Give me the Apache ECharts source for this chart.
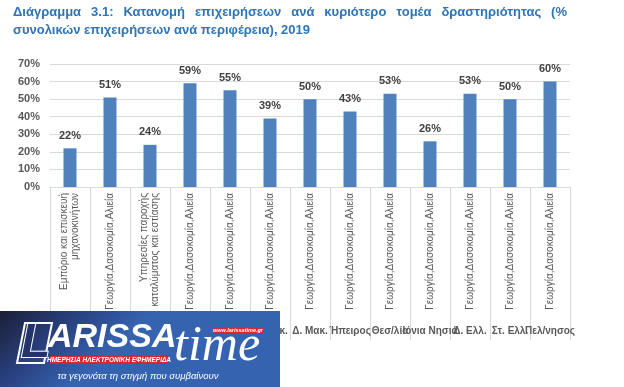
<!DOCTYPE html>
<html>
<head>
<meta charset="utf-8">
<script src="https://cdn.jsdelivr.net/npm/echarts@6/dist/echarts.min.js"></script>
<style>
html,body{margin:0;padding:0;background:#fff;}
#chart{width:624px;height:387px;}
</style>
</head>
<body>
<div id="chart"></div>
<script>
// ---- data ----
var sectors = [
  'Εμπόριο και επισκευή\nμηχανοκινήτων',
  'Γεωργία,Δασοκομία,Αλιεία',
  'Υπηρεσίες παροχής\nκαταλύματος και εστίασης',
  'Γεωργία,Δασοκομία,Αλιεία',
  'Γεωργία,Δασοκομία,Αλιεία',
  'Γεωργία,Δασοκομία,Αλιεία',
  'Γεωργία,Δασοκομία,Αλιεία',
  'Γεωργία,Δασοκομία,Αλιεία',
  'Γεωργία,Δασοκομία,Αλιεία',
  'Γεωργία,Δασοκομία,Αλιεία',
  'Γεωργία,Δασοκομία,Αλιεία',
  'Γεωργία,Δασοκομία,Αλιεία',
  'Γεωργία,Δασοκομία,Αλιεία'
];
var regions = ['Αττική', 'Β. Αιγαίο', 'Ν. Αιγαίο', 'Κρήτη', 'Α. Μακ. Θρ.', 'Κ. Μακ.', 'Δ. Μακ.', 'Ήπειρος', 'Θεσ/λία', 'Ιόνια Νησιά', 'Δ. Ελλ.', 'Στ. Ελλ.', 'Πελ/νησος'];
var shares = [22, 51, 24, 59, 55, 39, 50, 43, 53, 26, 53, 50, 60];
var yTicks = [0, 10, 20, 30, 40, 50, 60, 70];

var titleLine1 = ['Διάγραμμα', '3.1:', 'Κατανομή', 'επιχειρήσεων', 'ανά', 'κυριότερο', 'τομέα', 'δραστηριότητας', '(%'];
var titleLine2 = 'συνολικών επιχειρήσεων ανά περιφέρεια), 2019';

var titleFont = 'bold 13px "Liberation Sans", Arial, sans-serif';
var titleColor = '#2e75b6';
var titleLeft = 13, titleRight = 567;

// justified first title line
var ctx = document.createElement('canvas').getContext('2d');
ctx.font = titleFont;
var widths = titleLine1.map(function (w) { return ctx.measureText(w).width; });
var total = widths.reduce(function (a, b) { return a + b; }, 0);
var gap = (titleRight - titleLeft - total) / (titleLine1.length - 1);

var graphics = [];
var cx = titleLeft;
titleLine1.forEach(function (w, i) {
  graphics.push({type: 'text', x: cx, y: 12, z: 10,
    style: {text: w, font: titleFont, fill: titleColor, textVerticalAlign: 'middle'}});
  cx += widths[i] + gap;
});
graphics.push({type: 'text', x: titleLeft, y: 30, z: 10,
  style: {text: titleLine2, font: titleFont, fill: titleColor, textVerticalAlign: 'middle'}});

// logo overlay
graphics.push({type: 'rect', shape: {x: 0, y: 311, width: 280, height: 76}, z: 50,
  style: {fill: {type: 'linear', x: 0, y: 0, x2: 0.25, y2: 1, colorStops: [
    {offset: 0, color: '#1c1e36'}, {offset: 0.5, color: '#283f7c'}, {offset: 1, color: '#3563b0'}]}}});
graphics.push({type: 'polygon', z: 51, shape: {points: [[25, 323], [52, 323], [44, 363], [17, 363]]},
  style: {fill: 'none', stroke: '#ffffff', lineWidth: 2}});
graphics.push({type: 'text', x: 21, y: 344, z: 52,
  style: {text: 'L', font: 'italic bold 48px "Liberation Sans", Arial, sans-serif', fill: '#24336a', stroke: '#ffffff', lineWidth: 2, textVerticalAlign: 'middle'}});
graphics.push({type: 'text', x: 48, y: 338, z: 52,
  style: {text: 'ARISSA', font: 'italic bold 34px "Liberation Sans", Arial, sans-serif', fill: '#ffffff', textVerticalAlign: 'middle'}});
graphics.push({type: 'text', x: 174, y: 347, z: 53,
  style: {text: 'time', font: 'italic 50px "Liberation Serif", "Times New Roman", serif', fill: '#ffffff', textVerticalAlign: 'middle'}});
graphics.push({type: 'rect', z: 52, shape: {x: 50, y: 356, width: 118, height: 8}, style: {fill: '#d7262c'}});
graphics.push({type: 'text', x: 109, y: 360, z: 53,
  style: {text: 'ΗΜΕΡΗΣΙΑ ΗΛΕΚΤΡΟΝΙΚΗ ΕΦΗΜΕΡΙΔΑ', font: 'italic bold 6.5px "Liberation Sans", Arial, sans-serif', fill: '#ffffff', textAlign: 'center', textVerticalAlign: 'middle'}});
graphics.push({type: 'rect', z: 52, shape: {x: 213, y: 327, width: 50, height: 7}, style: {fill: '#d7262c'}});
graphics.push({type: 'text', x: 238, y: 330.5, z: 53,
  style: {text: 'www.larissatime.gr', font: 'italic bold 5.5px "Liberation Sans", Arial, sans-serif', fill: '#ffffff', textAlign: 'center', textVerticalAlign: 'middle'}});
graphics.push({type: 'text', x: 138, y: 376, z: 52,
  style: {text: 'τα γεγονότα τη στιγμή που συμβαίνουν', font: 'italic 9.5px "Liberation Sans", Arial, sans-serif', fill: '#ffffff', textAlign: 'center', textVerticalAlign: 'middle'}});

var chart = echarts.init(document.getElementById('chart'), null, {renderer: 'canvas'});
chart.setOption({
  animation: false,
  backgroundColor: '#ffffff',
  grid: {left: 50, right: 54, top: 64, bottom: 200, containLabel: false},
  xAxis: [{
    type: 'category',
    data: sectors,
    boundaryGap: true,
    axisLine: {show: true, lineStyle: {color: '#d9d9d9', width: 1}},
    axisTick: {show: true, interval: 0, length: 153, lineStyle: {color: '#d9d9d9', width: 1}},
    axisLabel: {interval: 0, rotate: 90, margin: 6, fontSize: 10, color: '#595959', lineHeight: 11,
      fontFamily: '"Liberation Sans", Arial, sans-serif', hideOverlap: false}
  }, {
    type: 'category',
    data: regions,
    position: 'bottom',
    offset: 131,
    axisLine: {show: false},
    axisTick: {show: false},
    axisLabel: {interval: 0, margin: 8, fontSize: 10, fontWeight: 'bold', color: '#595959',
      fontFamily: '"Liberation Sans", Arial, sans-serif', hideOverlap: false}
  }],
  yAxis: {
    type: 'value',
    min: yTicks[0], max: yTicks[yTicks.length - 1], interval: 10,
    axisLine: {show: false},
    axisTick: {show: false},
    splitLine: {lineStyle: {color: '#d9d9d9', width: 1}},
    axisLabel: {formatter: '{value}%', margin: 10, fontSize: 11, fontWeight: 'bold', color: '#595959',
      fontFamily: '"Liberation Sans", Arial, sans-serif'}
  },
  series: [{
    type: 'bar',
    xAxisIndex: 0,
    data: shares,
    barWidth: 13,
    itemStyle: {color: '#4f81bd'},
    label: {show: true, position: 'top', distance: 7, formatter: '{c}%', fontSize: 11, fontWeight: 'bold',
      color: '#404040', fontFamily: '"Liberation Sans", Arial, sans-serif'}
  }],
  graphic: graphics
});
</script>
</body>
</html>
